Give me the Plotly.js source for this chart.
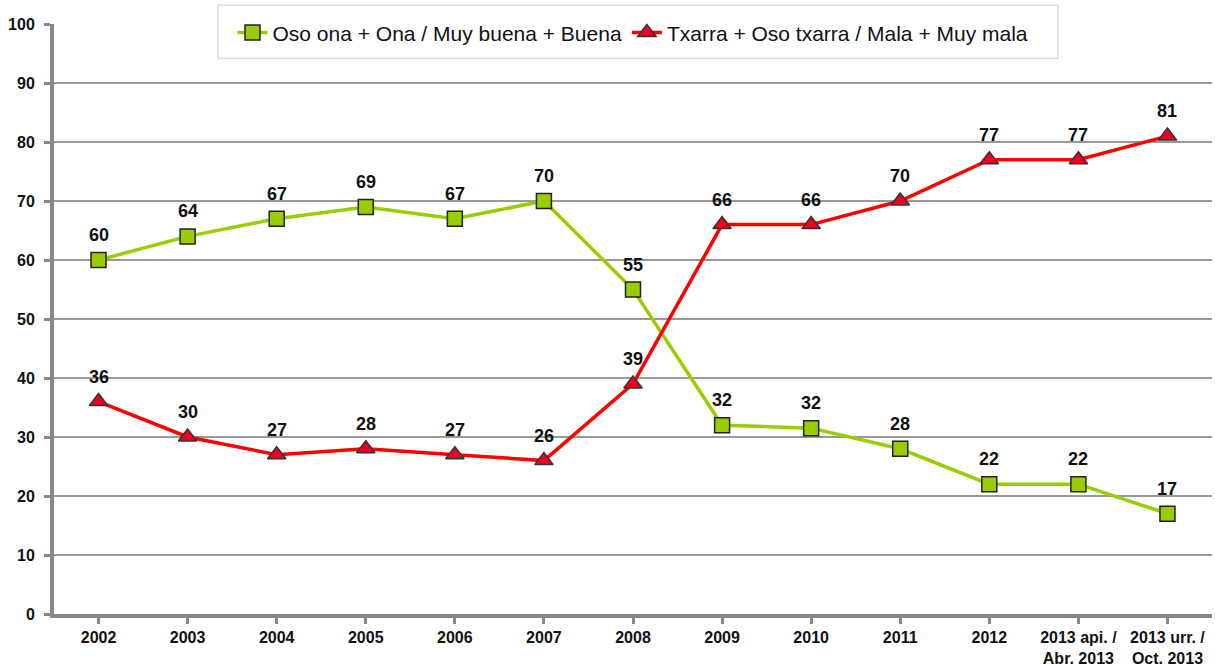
<!DOCTYPE html>
<html><head><meta charset="utf-8">
<script src="https://cdn.plot.ly/plotly-3.0.1.min.js"></script>
<style>body{margin:0;background:#fff}#c{width:1215px;height:668px}</style>
</head><body><div id="c"></div>
<script>
const categories = ["2002","2003","2004","2005","2006","2007","2008","2009","2010","2011","2012","2013 api. /<br>Abr. 2013","2013 urr. /<br>Oct. 2013"];
const goodValues = [60,64,67,69,67,70,55,32,31.5,28,22,22,17];
const badValues = [36,30,27,28,27,26,39,66,66,70,77,77,81];
const goodName = "Oso ona + Ona / Muy buena + Buena";
const badName = "Txarra + Oso txarra / Mala + Muy mala";
const yTicks = [0,10,20,30,40,50,60,70,80,90,100];

const idx = categories.map((c,i)=>i);
const FF = "Liberation Sans, Arial, sans-serif";
const labelFont = {family:FF, size:18, color:"#111", weight:700};
const traces = [
 {x:idx, y:goodValues, name:goodName, type:"scatter", mode:"lines+markers",
  line:{color:"#9acd00", width:3.5},
  marker:{symbol:"square", size:15, color:"#9acd00", line:{color:"#222", width:1.5}}, cliponaxis:false},
 {x:idx, y:badValues, name:badName, type:"scatter", mode:"lines+markers",
  line:{color:"#ff0000", width:3.5},
  marker:{symbol:"triangle-up", size:16, color:"#ee0022", line:{color:"#333", width:1.5}}, cliponaxis:false}
];
const annotations = [];
goodValues.forEach((v,i)=>annotations.push({x:idx[i], y:v, text:String(Math.round(v)), showarrow:false, yshift:25, font:labelFont}));
badValues.forEach((v,i)=>annotations.push({x:idx[i], y:v, text:String(v), showarrow:false, yshift:25, font:labelFont}));

const layout = {
 width:1215, height:668,
 margin:{l:54, r:3, t:24, b:54},
 paper_bgcolor:"#fff", plot_bgcolor:"#fff",
 font:{family:FF, color:"#111"},
 showlegend:true,
 legend:{orientation:"h", x:0.5, xanchor:"center", y:0.985, yanchor:"middle",
  bgcolor:"rgba(0,0,0,0)", borderwidth:0,
  font:{size:21, color:"#111"}, itemwidth:30},
 shapes:[{type:"rect", xref:"paper", yref:"paper", x0:0.1416, x1:0.867, y0:0.942, y1:1.032,
  fillcolor:"#fff", line:{color:"#cccccc", width:1}, layer:"above"}],
 annotations:annotations,
 xaxis:{range:[-0.5, categories.length-0.5], tickmode:"array", tickvals:idx, ticktext:categories,
  showgrid:false, zeroline:false, showline:true, linecolor:"#888", linewidth:4,
  ticks:"outside", ticklen:6, tickcolor:"#888", tickwidth:3, tickson:"boundaries",
  tickfont:{size:16, color:"#111", weight:700}, fixedrange:true},
 yaxis:{range:[0,100], tickvals:yTicks, showgrid:true, gridcolor:"#999", gridwidth:2,
  zeroline:false, showline:true, linecolor:"#888", linewidth:4,
  ticks:"outside", ticklen:6, tickcolor:"#888", tickwidth:3, ticklabelstandoff:6,
  tickfont:{size:16, color:"#111", weight:700}, fixedrange:true}
};
Plotly.newPlot("c", traces, layout, {displayModeBar:false, staticPlot:true});
</script></body></html>
